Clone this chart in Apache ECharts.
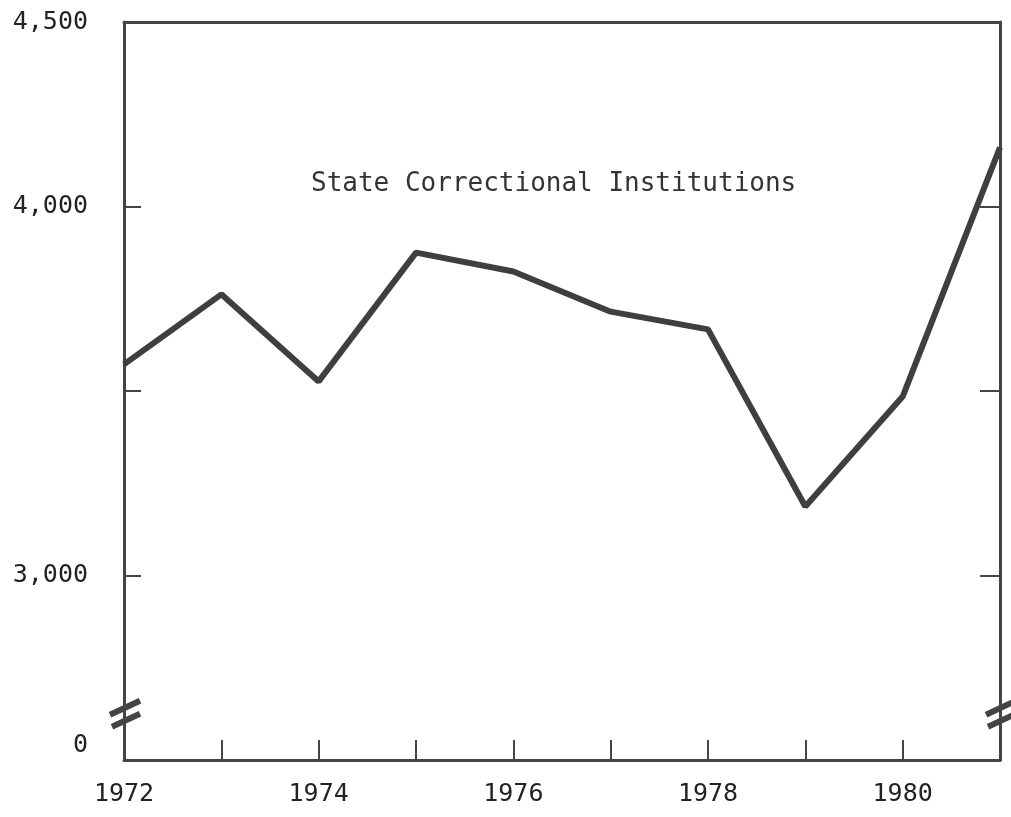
<!DOCTYPE html>
<html>
<head>
<meta charset="utf-8">
<script src="https://cdn.jsdelivr.net/npm/echarts@6/dist/echarts.min.js"></script>
<style>
  html, body { margin: 0; padding: 0; background: #fff; }
  #main { width: 1011px; height: 817px; }
</style>
</head>
<body>
<div id="main"></div>
<script>
  // years along the bottom
  var years = ['1972', '1973', '1974', '1975', '1976', '1977', '1978', '1979', '1980', '1981'];
  // State Correctional Institutions
  var stateInst = [3572, 3762, 3526, 3875, 3824, 3715, 3667, 3187, 3485, 4160];
  // y tick labels: bottom of the broken axis is shown as 0
  var yTickLabels = { 2500: '0', 3000: '3,000', 3500: '', 4000: '4,000', 4500: '4,500' };
  var breakValue = 2620; // where the "//" marks sit on the broken axis

  var ink = '#444';
  var font = 'DejaVu Sans Mono';

  var myChart = echarts.init(document.getElementById('main'));

  var option = {
    animation: false,
    backgroundColor: '#fff',
    title: {
      text: 'State Correctional Institutions',
      left: 306,
      top: 166,
      textStyle: { fontFamily: font, fontSize: 26, fontWeight: 'normal', color: '#333' }
    },
    grid: { left: 124, right: 11, top: 22, bottom: 57 },
    xAxis: [
      {
        type: 'category',
        data: years,
        boundaryGap: false,
        axisLine: { lineStyle: { color: ink, width: 3 } },
        axisTick: { inside: true, length: 20, interval: 0, lineStyle: { color: ink, width: 2 } },
        axisLabel: { interval: 1, margin: 22, fontFamily: font, fontSize: 25, color: '#222' },
        splitLine: { show: false }
      },
      {
        type: 'category',
        data: years,
        position: 'top',
        boundaryGap: false,
        axisLine: { lineStyle: { color: ink, width: 3 } },
        axisTick: { show: false },
        axisLabel: { show: false }
      }
    ],
    yAxis: [
      {
        type: 'value',
        min: 2500,
        max: 4500,
        interval: 500,
        axisLine: { show: true, lineStyle: { color: ink, width: 3 } },
        axisTick: { show: true, inside: true, length: 17, lineStyle: { color: ink, width: 2 } },
        axisLabel: {
          margin: 36,
          fontFamily: font,
          fontSize: 25,
          color: '#222',
          formatter: function (v) {
            if (v === 2500) return '{z|0}';
            return yTickLabels[v];
          },
          rich: { z: { fontFamily: font, fontSize: 25, color: '#222', padding: [0, 0, 30, 0] } }
        },
        splitLine: { show: false }
      },
      {
        type: 'value',
        position: 'right',
        min: 2500,
        max: 4500,
        interval: 500,
        axisLine: { show: true, lineStyle: { color: ink, width: 3 } },
        axisTick: { show: true, inside: true, length: 20, lineStyle: { color: ink, width: 2 } },
        axisLabel: { show: false },
        splitLine: { show: false }
      }
    ],
    series: [
      {
        name: 'State Correctional Institutions',
        type: 'line',
        data: stateInst,
        showSymbol: false,
        lineStyle: { color: '#3f3f3f', width: 6 }
      }
    ]
  };
  myChart.setOption(option);

  // break marks "//" on both vertical axes
  var pL = myChart.convertToPixel({ xAxisIndex: 0, yAxisIndex: 0 }, [years[0], breakValue]);
  var pR = myChart.convertToPixel({ xAxisIndex: 0, yAxisIndex: 0 }, [years[years.length - 1], breakValue]);
  function breakMarks(p) {
    var st = { stroke: ink, lineWidth: 6 };
    return [
      { type: 'line', shape: { x1: p[0] - 14, y1: p[1] - 1, x2: p[0] + 16, y2: p[1] - 15 }, style: st },
      { type: 'line', shape: { x1: p[0] - 12, y1: p[1] + 11, x2: p[0] + 16, y2: p[1] - 2 }, style: st }
    ];
  }
  myChart.setOption({ graphic: breakMarks(pL).concat(breakMarks(pR)) });
</script>
</body>
</html>
